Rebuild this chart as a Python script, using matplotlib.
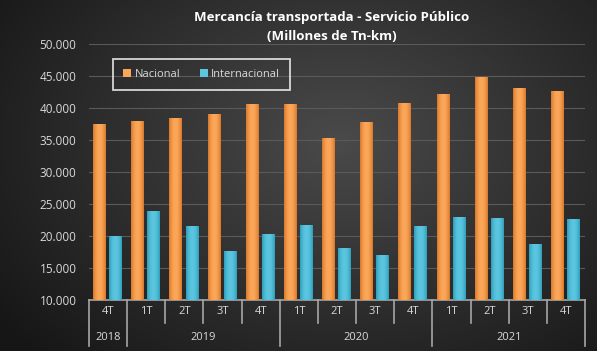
import matplotlib
matplotlib.use('Agg')
import matplotlib.pyplot as plt
import matplotlib.transforms as mtransforms
import numpy as np

quarters = ['4T', '1T', '2T', '3T', '4T', '1T', '2T', '3T', '4T', '1T', '2T', '3T', '4T']
years = ['2018', '2019', '2020', '2021']
year_spans = [(0, 0), (1, 4), (5, 8), (9, 12)]  # first and last quarter index per year
nacional = [37500, 37900, 38500, 39100, 40600, 40700, 35300, 37800, 40800, 42200, 44900, 43100, 42600]
internacional = [20000, 23900, 21500, 17700, 20300, 21700, 18100, 17000, 21500, 23000, 22800, 18700, 22700]

plt.rcParams['font.family'] = ['Open Sans', 'DejaVu Sans']
txt = '#d9d9d9'

fig = plt.figure(figsize=(5.97, 3.51), dpi=100)

# radial dark background
bg = fig.add_axes([0, 0, 1, 1], zorder=-5)
yy, xx = np.mgrid[0:351, 0:597]
r = np.sqrt(((xx - 340) / 420.0) ** 2 + ((yy - 140) / 300.0) ** 2)
shade = np.clip(0.29 - 0.20 * r, 0.09, 0.3)
bg.imshow(np.dstack([shade, shade, shade]), aspect='auto', extent=[0, 1, 0, 1])
bg.axis('off')

ax = fig.add_axes([0.149, 0.1453, 0.831, 0.7293])
ax.set_facecolor('none')

x = np.arange(len(quarters))
w = 0.34


def grad_bars(xpos, vals, edge, mid):
    bars = ax.bar(xpos, np.array(vals) - 10000, w, bottom=10000, color=mid, zorder=3)
    c0 = np.array(matplotlib.colors.to_rgb(edge))
    c1 = np.array(matplotlib.colors.to_rgb(mid))
    t = 1 - np.abs(np.linspace(-1, 1, 32)) ** 2
    g = c0[None, :] + (c1 - c0)[None, :] * t[:, None]
    img = g[None, :, :]
    for b in bars:
        im = ax.imshow(img, aspect='auto', zorder=4,
                       extent=[b.get_x(), b.get_x() + b.get_width(), b.get_y(), b.get_y() + b.get_height()])
        im.set_clip_path(b)
    return bars


b1 = grad_bars(x - 0.22, nacional, '#d9782a', '#fba75a')
b2 = grad_bars(x + 0.20, internacional, '#2f9fbc', '#5cc6e0')

ax.set_xlim(-0.5, len(quarters) - 0.5)
ax.set_ylim(10000, 50000)
ax.set_yticks(np.arange(10000, 50001, 5000))
ax.set_yticklabels([f'{v // 1000}.000' for v in range(10000, 50001, 5000)])
ax.tick_params(axis='y', length=0, colors=txt, labelsize=8.5, pad=9)
ax.set_xticks([])
ax.grid(axis='y', color='#5a5a5a', linewidth=0.8, zorder=0)
for s in ['top', 'right', 'left']:
    ax.spines[s].set_visible(False)
ax.spines['bottom'].set_color('#a6a6a6')
ax.spines['bottom'].set_linewidth(1.2)

tr = mtransforms.blended_transform_factory(ax.transData, ax.transAxes)
for i, q in enumerate(quarters):
    ax.text(i, -0.045, q, transform=tr, ha='center', va='center', color=txt, fontsize=8)
year_edges = [s for s, e in year_spans] + [len(quarters)]
for k in range(len(quarters) + 1):
    bx = k - 0.5
    bottom = -0.18 if k in year_edges else -0.09
    ax.plot([bx, bx], [0, bottom], transform=tr, color='#a6a6a6', lw=1.2, clip_on=False)
for yname, (s, e) in zip(years, year_spans):
    ax.text((s + e) / 2, -0.148, yname, transform=tr, ha='center', va='center', color=txt, fontsize=8)

leg = ax.legend([b1, b2], ['Nacional', 'Internacional'], ncol=2, loc='upper left',
                bbox_to_anchor=(0.038, 0.965), fontsize=8, frameon=True, fancybox=False,
                handlelength=0.7, handleheight=0.7, handletextpad=0.3, columnspacing=1.8,
                borderpad=0.9, labelcolor=txt)
leg.get_frame().set_edgecolor('white')
leg.get_frame().set_linewidth(1.3)
leg.get_frame().set_facecolor('none')

fig.text(0.555, 0.950, 'Mercancía transportada - Servicio Público', ha='center', va='center',
         color='white', fontsize=9.5, fontweight='bold')
fig.text(0.555, 0.897, '(Millones de Tn-km)', ha='center', va='center',
         color='white', fontsize=9.5, fontweight='bold')

fig.savefig('out.png', dpi=100)
